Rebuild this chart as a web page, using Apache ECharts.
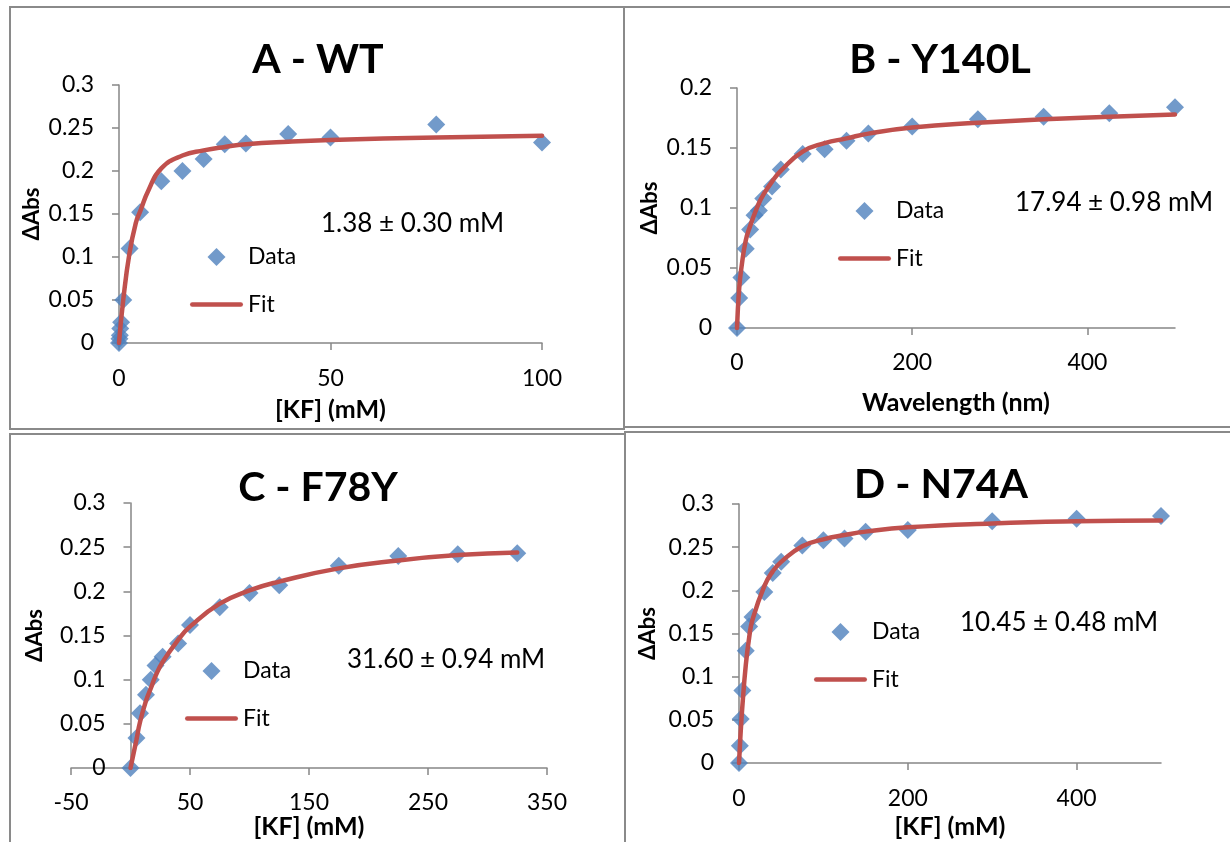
<!DOCTYPE html>
<html>
<head>
<meta charset="utf-8">
<script src="https://cdn.jsdelivr.net/npm/echarts@6/dist/echarts.min.js"></script>
<style>
html,body{margin:0;padding:0;background:#fff;}
#chart{width:1230px;height:842px;}
</style>
</head>
<body>
<div id="chart"></div>
<script>
// ---- Panel titles and annotations ----
const panelTitles = ['A - WT', 'B - Y140L', 'C - F78Y', 'D - N74A'];
const kdLabels = ['1.38 ± 0.30 mM', '17.94 ± 0.98 mM', '31.60 ± 0.94 mM', '10.45 ± 0.48 mM'];
const xNames = ['[KF] (mM)', 'Wavelength (nm)', '[KF] (mM)', '[KF] (mM)'];
const yName = 'ΔAbs';

// ---- Panel A (WT) ----
const aX  = [0, 0.1, 0.2, 0.3, 0.5, 1, 2.5, 5, 10, 15, 20, 25, 30, 40, 50, 75, 100];
const aY  = [0, 0.005, 0.009, 0.017, 0.024, 0.05, 0.11, 0.152, 0.188, 0.2, 0.214, 0.231, 0.232, 0.243, 0.239, 0.254, 0.233];
const afX = [0, 1, 2.5, 4, 5, 7, 10, 15, 20, 25, 30, 40, 50, 75, 100];
const afY = [0, 0.05, 0.105, 0.14, 0.153, 0.178, 0.203, 0.218, 0.224, 0.228, 0.231, 0.234, 0.236, 0.239, 0.241];

// ---- Panel B (Y140L) ----
const bX  = [0, 2.5, 5, 10, 15, 20, 25, 30, 40, 50, 75, 100, 125, 150, 200, 275, 350, 425, 500];
const bY  = [0, 0.025, 0.042, 0.066, 0.082, 0.094, 0.098, 0.108, 0.118, 0.132, 0.145, 0.149, 0.156, 0.162, 0.168, 0.174, 0.176, 0.179, 0.184];
const bfX = [0, 2.5, 5, 10, 15, 20, 25, 30, 40, 50, 75, 100, 125, 150, 200, 275, 350, 425, 500];
const bfY = [0, 0.033, 0.05, 0.073, 0.085, 0.095, 0.104, 0.111, 0.122, 0.131, 0.147, 0.154, 0.158, 0.162, 0.167, 0.171, 0.174, 0.176, 0.178];

// ---- Panel C (F78Y) ----
const cX  = [0, 5, 8, 13, 17, 21, 27, 40, 50, 75, 100, 125, 175, 225, 275, 325];
const cY  = [0, 0.034, 0.062, 0.083, 0.1, 0.116, 0.126, 0.141, 0.162, 0.182, 0.198, 0.207, 0.229, 0.24, 0.242, 0.243];
const cfX = [0, 5, 8, 13, 17, 21, 27, 40, 50, 75, 100, 125, 175, 225, 275, 325];
const cfY = [0, 0.032, 0.052, 0.076, 0.09, 0.104, 0.12, 0.145, 0.16, 0.186, 0.201, 0.211, 0.226, 0.235, 0.241, 0.244];

// ---- Panel D (N74A) ----
const dX  = [0, 1, 2, 4, 8, 12, 16, 30, 40, 50, 75, 100, 125, 150, 200, 300, 400, 500];
const dY  = [0, 0.02, 0.051, 0.084, 0.13, 0.158, 0.169, 0.198, 0.22, 0.233, 0.252, 0.258, 0.26, 0.268, 0.27, 0.28, 0.283, 0.286];
const dfX = [0, 1, 2, 4, 8, 12, 16, 30, 40, 50, 75, 100, 125, 150, 200, 300, 400, 500];
const dfY = [0, 0.018, 0.036, 0.066, 0.113, 0.145, 0.166, 0.205, 0.222, 0.233, 0.251, 0.259, 0.264, 0.268, 0.273, 0.2775, 0.28, 0.281];

// ---- Axis ranges and tick labels ----
const xRanges = [[0, 100], [0, 500], [-50, 350], [0, 500]];
const xTicks  = [[0, 50, 100], [0, 200, 400], [-50, 50, 150, 250, 350], [0, 200, 400]];
const yMax    = [0.3, 0.2, 0.3, 0.3];

const pairs = (xs, ys) => xs.map((x, i) => [x, ys[i]]);
const dataSets = [pairs(aX, aY), pairs(bX, bY), pairs(cX, cY), pairs(dX, dY)];
const fitSets  = [pairs(afX, afY), pairs(bfX, bfY), pairs(cfX, cfY), pairs(dfX, dfY)];

// ---- Layout (positions only) ----
const FONT = 'Lato, "DejaVu Sans", sans-serif';
const grids = [
  {left: 119, top: 85,  width: 423, height: 258},
  {left: 737, top: 88,  width: 438, height: 240},
  {left: 71,  top: 503, width: 476, height: 265},
  {left: 739, top: 504, width: 422, height: 259}
].map(g => Object.assign({outerBoundsMode: 'none', containLabel: false}, g));
// y axis sits at x = 0 (panel C's x range starts at -50)
const yAxisOffset = [0, 0, -59.5, 0];
const titlePos = [[318, 39], [940, 39], [318, 467], [941, 464]];
const kdPos = [[321, 224], [1015, 203], [347, 660], [960, 623]];
const legendPos = [[190, 245], [838, 199], [185, 659], [814, 620]];
const xLabelMargin = [24, 23, 23, 24];
const xNameGap = [54, 62, 45, 51];
const yNameGap = [76, 76, 85, 80];
const frames = [
  [10, 7, 614, 422], [624, 7, 640, 420], [10, 434, 615, 430], [625, 432, 640, 430]
];

// legend icons: diamond centred in a 53x18 box, and a rounded bar across it
const DIAMOND_ICON = 'path://M0,0M53,0M53,18M0,18M26.5,0L35.5,9L26.5,18L17.5,9Z';
const LINE_ICON = 'path://M0,0M53,0M53,18M0,18M2.25,6.75L50.75,6.75A2.25,2.25,0,0,1,50.75,11.25L2.25,11.25A2.25,2.25,0,0,1,2.25,6.75Z';

const AXIS_COLOR = '#868686';

const xAxes = [], yAxes = [], series = [], titles = [], legends = [], graphics = [];
for (let i = 0; i < 4; i++) {
  xAxes.push({
    type: 'value', gridIndex: i, min: xRanges[i][0], max: xRanges[i][1],
    name: xNames[i], nameLocation: 'middle', nameGap: xNameGap[i],
    nameTextStyle: {fontFamily: FONT, fontWeight: 'bold', fontSize: 25, color: '#000'},
    axisLine: {onZero: true, lineStyle: {color: AXIS_COLOR, width: 1.5}},
    axisTick: {show: true, length: 7, customValues: xTicks[i], lineStyle: {color: AXIS_COLOR, width: 1.5}},
    axisLabel: {customValues: xTicks[i], margin: xLabelMargin[i], fontFamily: FONT, fontSize: 23, color: '#000'},
    splitLine: {show: false}
  });
  yAxes.push({
    type: 'value', gridIndex: i, min: 0, max: yMax[i], interval: 0.05,
    position: 'left', offset: yAxisOffset[i],
    name: yName, nameLocation: 'middle', nameGap: yNameGap[i],
    nameTextStyle: {fontFamily: FONT, fontWeight: 'bold', fontSize: 22, color: '#000'},
    axisLine: {show: true, onZero: false, lineStyle: {color: AXIS_COLOR, width: 1.5}},
    axisTick: {show: true, length: 7, lineStyle: {color: AXIS_COLOR, width: 1.5}},
    axisLabel: {margin: 25, fontFamily: FONT, fontSize: 23, color: '#000'},
    splitLine: {show: false}
  });
  series.push({
    name: 'Data', type: 'scatter', xAxisIndex: i, yAxisIndex: i,
    symbol: 'diamond', symbolSize: 18,
    itemStyle: {color: '#4F81BD'},
    data: dataSets[i], z: 2
  });
  series.push({
    name: 'Fit', type: 'line', xAxisIndex: i, yAxisIndex: i,
    showSymbol: false, symbol: 'none', smooth: 0.5,
    lineStyle: {color: '#C0504D', width: 4.5, cap: 'round'}, itemStyle: {color: '#C0504D'},
    data: fitSets[i], z: 3
  });
  titles.push({
    text: panelTitles[i], left: titlePos[i][0], top: titlePos[i][1], textAlign: 'center', padding: 0,
    textStyle: {fontFamily: FONT, fontWeight: 'bold', fontSize: 41, color: '#000'}
  });
  legends.push({
    data: [{name: 'Data', icon: DIAMOND_ICON}, {name: 'Fit', icon: LINE_ICON}],
    orient: 'vertical', left: legendPos[i][0], top: legendPos[i][1],
    padding: 0, itemWidth: 53, itemHeight: 18, itemGap: 23.5,
    itemStyle: {borderWidth: 0},
    textStyle: {fontFamily: FONT, fontSize: 23, color: '#000', lineHeight: 24}
  });
  graphics.push({
    type: 'text', x: kdPos[i][0], y: kdPos[i][1], silent: true,
    style: {text: kdLabels[i], fill: '#000', font: '26px ' + FONT, verticalAlign: 'middle', align: 'left'}
  });
  graphics.push({
    type: 'rect', silent: true, z: -1,
    shape: {x: frames[i][0], y: frames[i][1], width: frames[i][2], height: frames[i][3]},
    style: {fill: 'none', stroke: '#8a8a8a', lineWidth: 2}
  });
}

const chart = echarts.init(document.getElementById('chart'), null, {renderer: 'canvas'});
chart.setOption({
  animation: false,
  backgroundColor: '#fff',
  title: titles,
  legend: legends,
  grid: grids,
  xAxis: xAxes,
  yAxis: yAxes,
  series: series,
  graphic: graphics
});
</script>
</body>
</html>
